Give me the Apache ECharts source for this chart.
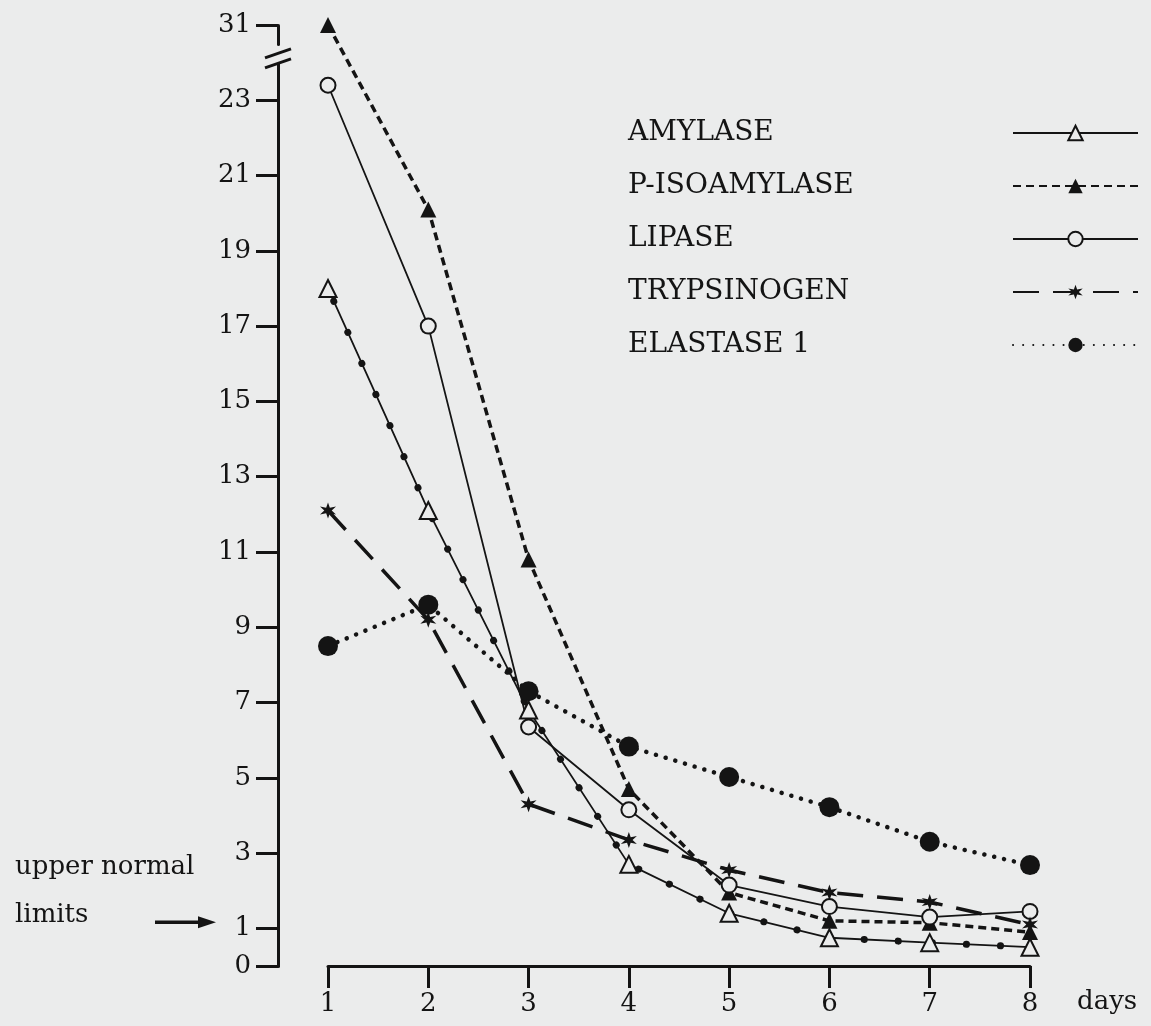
<!DOCTYPE html>
<html><head><meta charset="utf-8">
<script src="https://cdn.jsdelivr.net/npm/echarts@6/dist/echarts.min.js"></script>
<style>html,body{margin:0;padding:0;background:#ebecec;} #chart{width:1151px;height:1026px;}</style>
</head><body><div id="chart"></div>
<script>
// ---- data ----
const days = [1, 2, 3, 4, 5, 6, 7, 8];
const seriesNames = ['AMYLASE', 'P-ISOAMYLASE', 'LIPASE', 'TRYPSINOGEN', 'ELASTASE 1'];
const amylase     = [18.0, 12.1, 6.8, 2.7, 1.4, 0.75, 0.62, 0.5];
const pIsoamylase = [31, 20.1, 10.8, 4.7, 1.95, 1.2, 1.15, 0.9];
const lipase      = [23.4, 17.0, 6.35, 4.15, 2.15, 1.58, 1.3, 1.45];
const trypsinogen = [12.1, 9.2, 4.3, 3.35, 2.55, 1.95, 1.7, 1.1];
const elastase1   = [8.5, 9.6, 7.3, 5.83, 5.02, 4.22, 3.3, 2.68];
const yTickValues = [0, 1, 3, 5, 7, 9, 11, 13, 15, 17, 19, 21, 23, 31];
const xTickValues = [1, 2, 3, 4, 5, 6, 7, 8];
const yBreakStart = 24, yBreakEnd = 30.5, yBreakGap = 0.5;
const xName = 'days';
const noteLines = ['upper normal', 'limits'];

// ---- chart ----
const FONT = 'DejaVu Serif';
const INK = '#141414';
const BG = '#ebecec';
const pair = arr => days.map((d, i) => [d, arr[i]]);
const asterisk = 'path://M10 0L12 6.54L18.66 5L14 10L18.66 15L12 13.46L10 20L8 13.46L1.34 15L6 10L1.34 5L8 6.54Z';

const chart = echarts.init(document.getElementById('chart'), null, {renderer: 'canvas'});
const option = {
  backgroundColor: BG,
  animation: false,
  textStyle: {fontFamily: FONT, color: INK},
  grid: {left: 328, right: 121, top: 25, bottom: 60, containLabel: false},
  legend: {
    data: seriesNames,
    orient: 'vertical',
    left: 623, top: 113,
    align: 'right',
    itemWidth: 125, itemHeight: 18, itemGap: 23,
    formatter: name => '{t|' + name + '}',
    textStyle: {
      fontFamily: FONT, fontSize: 28, color: INK, lineHeight: 30,
      rich: {t: {width: 380, align: 'left', fontFamily: FONT, fontSize: 28, color: INK, lineHeight: 30}}
    },
    selectedMode: false
  },
  xAxis: {
    type: 'value', min: 1, max: 8, interval: 1,
    name: xName, nameLocation: 'end', nameGap: 47,
    nameTextStyle: {fontFamily: FONT, fontSize: 26, color: INK, verticalAlign: 'top', padding: [23, 0, 0, 0]},
    axisLine: {lineStyle: {color: INK, width: 3}},
    axisTick: {length: 22, lineStyle: {color: INK, width: 3}},
    axisLabel: {fontFamily: FONT, fontSize: 26, color: INK, margin: 25},
    splitLine: {show: false}
  },
  yAxis: {
    type: 'value', min: 0, max: 31, offset: 50,
    breaks: [{start: yBreakStart, end: yBreakEnd, gap: yBreakGap}],
    breakArea: {show: false},
    axisLine: {show: true, lineStyle: {color: INK, width: 3}},
    axisTick: {show: true, length: 22, lineStyle: {color: INK, width: 3}, customValues: yTickValues},
    axisLabel: {fontFamily: FONT, fontSize: 26, color: INK, margin: 27, customValues: yTickValues},
    splitLine: {show: false}
  },
  series: [
    {
      name: 'AMYLASE', type: 'line', data: pair(amylase), z: 3,
      symbol: 'triangle', symbolSize: 17,
      itemStyle: {color: BG, borderColor: INK, borderWidth: 2},
      lineStyle: {color: INK, width: 1.8}
    },
    {
      name: 'AMYLASE dots', type: 'line', data: pair(amylase), z: 2, silent: true,
      symbol: 'none', legendHoverLink: false,
      lineStyle: {color: INK, width: 7, type: [0.1, 34], cap: 'round', dashOffset: -14}
    },
    {
      name: 'P-ISOAMYLASE', type: 'line', data: pair(pIsoamylase), z: 3,
      symbol: 'triangle', symbolSize: 16,
      itemStyle: {color: INK},
      lineStyle: {color: INK, width: 3.5, type: [8, 5]}
    },
    {
      name: 'LIPASE', type: 'line', data: pair(lipase), z: 3,
      symbol: 'circle', symbolSize: 15,
      itemStyle: {color: BG, borderColor: INK, borderWidth: 2},
      lineStyle: {color: INK, width: 1.8}
    },
    {
      name: 'TRYPSINOGEN', type: 'line', data: pair(trypsinogen), z: 3,
      symbol: asterisk, symbolSize: 16,
      itemStyle: {color: INK},
      lineStyle: {color: INK, width: 3.5, type: [26, 14]}
    },
    {
      name: 'ELASTASE 1', type: 'line', data: pair(elastase1), z: 3,
      symbol: 'circle', symbolSize: 20,
      itemStyle: {color: INK},
      lineStyle: {color: INK, width: 4.5, type: [0.1, 10], cap: 'round'}
    }
  ]
};
chart.setOption(option);

// decorations: axis-break mark and "upper normal limits" note with arrow
const axisX = chart.convertToPixel({gridIndex: 0}, [1, 0])[0] - 50;
const p23 = chart.convertToPixel({yAxisIndex: 0}, 23);
const p31 = chart.convertToPixel({yAxisIndex: 0}, 31);
const p1 = chart.convertToPixel({yAxisIndex: 0}, 1);
const p3 = chart.convertToPixel({yAxisIndex: 0}, 3);
const bm = p31 + (p23 - p31) * 0.45;
chart.setOption({
  graphic: [
    {type: 'rect', shape: {x: axisX - 4, y: bm - 5, width: 8, height: 10}, style: {fill: BG}, z: 100},
    {type: 'line', shape: {x1: axisX - 13, y1: bm - 1, x2: axisX + 13, y2: bm - 10}, style: {stroke: INK, lineWidth: 3}, z: 101},
    {type: 'line', shape: {x1: axisX - 13, y1: bm + 9, x2: axisX + 13, y2: bm}, style: {stroke: INK, lineWidth: 3}, z: 101},
    {type: 'text', left: 15, top: p3 + 1, style: {text: noteLines[0], font: '26px "DejaVu Serif"', fill: INK}, z: 101},
    {type: 'text', left: 15, top: p1 - 26, style: {text: noteLines[1], font: '26px "DejaVu Serif"', fill: INK}, z: 101},
    {type: 'line', shape: {x1: 155, y1: p1 - 6, x2: 200, y2: p1 - 6}, style: {stroke: INK, lineWidth: 3.5}, z: 101},
    {type: 'polygon', shape: {points: [[198, p1 - 12], [216, p1 - 6], [198, p1]]}, style: {fill: INK}, z: 101}
  ]
});
</script>
</body></html>
